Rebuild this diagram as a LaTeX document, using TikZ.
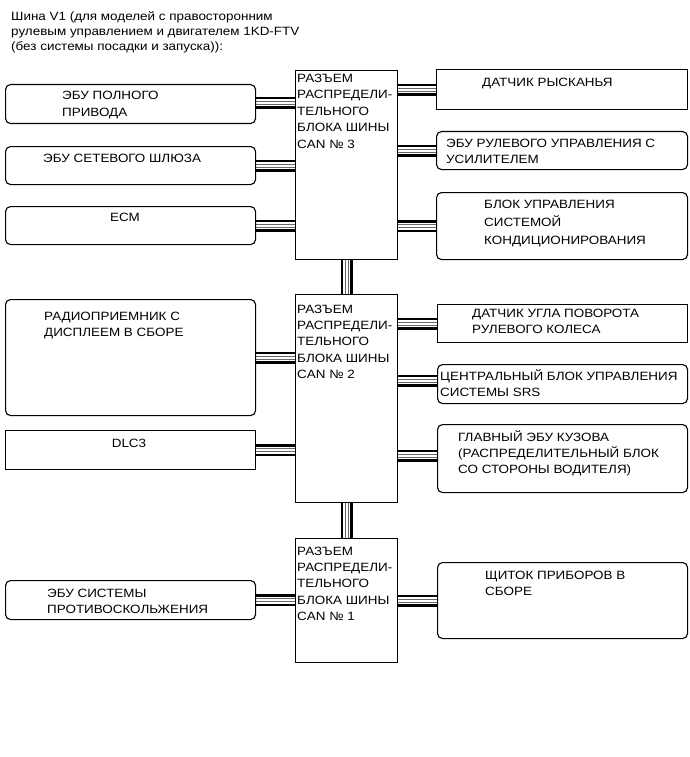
\documentclass[tikz,border=0pt]{standalone}
\usepackage{fontspec}
\setmainfont[FakeStretch=1.12]{Liberation Sans}
\usetikzlibrary{backgrounds}
\newcommand{\mlines}[1]{\begin{tabular}[t]{@{}l@{}}#1\end{tabular}}
\begin{document}
\begin{tikzpicture}[x=1pt,y=-1pt,
  box/.style={draw, line width=1.1pt, inner sep=0pt, anchor=north west},
  rbox/.style={box, rounded corners=5pt},
  lbl/.style={anchor=base west, inner sep=0pt, font=\fontsize{12}{16.4}\selectfont},
  bus/.style={line width=12pt, draw=black,
    postaction={draw=white, line width=7pt},
    postaction={draw=black!60, line width=4pt},
    postaction={draw=white, line width=2pt}}]
\useasboundingbox (0,0) rectangle (690,757);

% title
\node[lbl, font=\fontsize{12}{15.2}\selectfont] (title) at (11,20.5) {\mlines{Шина V1 (для моделей с правосторонним\\рулевым управлением и двигателем 1KD-FTV\\(без системы посадки и запуска)):}};

% hubs
\node[box, minimum width=102pt, minimum height=189pt] (h3) at (295,70) {};
\node[box, minimum width=102pt, minimum height=208pt] (h2) at (295,294) {};
\node[box, minimum width=102pt, minimum height=124pt] (h1) at (295,538) {};

% left boxes
\node[rbox, minimum width=250pt, minimum height=39pt] (l1) at (5,84) {};
\node[rbox, minimum width=250pt, minimum height=38pt] (l2) at (5,146) {};
\node[rbox, minimum width=250pt, minimum height=38pt] (l3) at (5,206) {};
\node[rbox, minimum width=250pt, minimum height=116pt] (l4) at (5,299) {};
\node[box, minimum width=250pt, minimum height=39pt] (l5) at (5,430) {};
\node[rbox, minimum width=250pt, minimum height=39pt] (l6) at (5,580) {};

% right boxes
\node[box, minimum width=251pt, minimum height=40pt] (r1) at (436,69) {};
\node[rbox, minimum width=251pt, minimum height=38pt] (r2) at (436,131) {};
\node[rbox, minimum width=251pt, minimum height=67pt] (r3) at (436,192) {};
\node[box, minimum width=250pt, minimum height=38pt] (r4) at (437,304) {};
\node[rbox, minimum width=250pt, minimum height=39pt] (r5) at (437,364) {};
\node[rbox, minimum width=250pt, minimum height=68pt] (r6) at (437,424) {};
\node[rbox, minimum width=250pt, minimum height=76pt] (r7) at (437,562) {};

% labels
\node[lbl] (th3) at (297,82.5) {\mlines{РАЗЪЕМ\\РАСПРЕДЕЛИ-\\ТЕЛЬНОГО\\БЛОКА ШИНЫ\\CAN № 3}};
\node[lbl] (th2) at (297,313) {\mlines{РАЗЪЕМ\\РАСПРЕДЕЛИ-\\ТЕЛЬНОГО\\БЛОКА ШИНЫ\\CAN № 2}};
\node[lbl] (th1) at (297,555) {\mlines{РАЗЪЕМ\\РАСПРЕДЕЛИ-\\ТЕЛЬНОГО\\БЛОКА ШИНЫ\\CAN № 1}};

\node[lbl] (tl1) at (62,100) {\mlines{ЭБУ ПОЛНОГО\\ПРИВОДА}};
\node[lbl] (tl2) at (43,162) {ЭБУ СЕТЕВОГО ШЛЮЗА};
\node[lbl, anchor=base] (tl3) at (125,221) {ECM};
\node[lbl] (tl4) at (44,320) {\mlines{РАДИОПРИЕМНИК С\\ДИСПЛЕЕМ В СБОРЕ}};
\node[lbl, anchor=base] (tl5) at (129,447) {DLC3};
\node[lbl] (tl6) at (47,597) {\mlines{ЭБУ СИСТЕМЫ\\ПРОТИВОСКОЛЬЖЕНИЯ}};

\node[lbl] (tr1) at (482,87) {ДАТЧИК РЫСКАНЬЯ};
\node[lbl] (tr2) at (446,147) {\mlines{ЭБУ РУЛЕВОГО УПРАВЛЕНИЯ С\\УСИЛИТЕЛЕМ}};
\node[lbl, font=\fontsize{12}{18.4}\selectfont] (tr3) at (484,208) {\mlines{БЛОК УПРАВЛЕНИЯ\\СИСТЕМОЙ\\КОНДИЦИОНИРОВАНИЯ}};
\node[lbl] (tr4) at (472,317) {\mlines{ДАТЧИК УГЛА ПОВОРОТА\\РУЛЕВОГО КОЛЕСА}};
\node[lbl] (tr5) at (440,380) {\mlines{ЦЕНТРАЛЬНЫЙ БЛОК УПРАВЛЕНИЯ\\СИСТЕМЫ SRS}};
\node[lbl] (tr6) at (458,441) {\mlines{ГЛАВНЫЙ ЭБУ КУЗОВА\\(РАСПРЕДЕЛИТЕЛЬНЫЙ БЛОК\\СО СТОРОНЫ ВОДИТЕЛЯ)}};
\node[lbl] (tr7) at (485,579) {\mlines{ЩИТОК ПРИБОРОВ В\\СБОРЕ}};

% connectors
\begin{scope}[on background layer]
\fill[white] (0,0) rectangle (690,757);
\draw[bus] ([yshift=1.5pt]l1.east) -- ([yshift=1.5pt]l1.east -| h3.west);
\draw[bus] (l2.east) -- (l2.east -| h3.west);
\draw[bus] (l3.east) -- (l3.east -| h3.west);
\draw[bus] (l4.east) -- (l4.east -| h2.west);
\draw[bus] (l5.east) -- (l5.east -| h2.west);
\draw[bus] (l6.east) -- (l6.east -| h1.west);
\draw[bus] (r1.west) -- (r1.west -| h3.east);
\draw[bus] (r2.west) -- (r2.west -| h3.east);
\draw[bus] (r3.west) -- (r3.west -| h3.east);
\draw[bus] (r4.west) -- (r4.west -| h2.east);
\draw[bus] ([yshift=3.5pt]r5.west) -- ([yshift=3.5pt]r5.west -| h2.east);
\draw[bus] ([yshift=3pt]r6.west) -- ([yshift=3pt]r6.west -| h2.east);
\draw[bus] (r7.west) -- (r7.west -| h1.east);
\draw[bus] (h3.south) -- (h2.north);
\draw[bus] (h2.south) -- (h1.north);
\end{scope}
\end{tikzpicture}
\end{document}
